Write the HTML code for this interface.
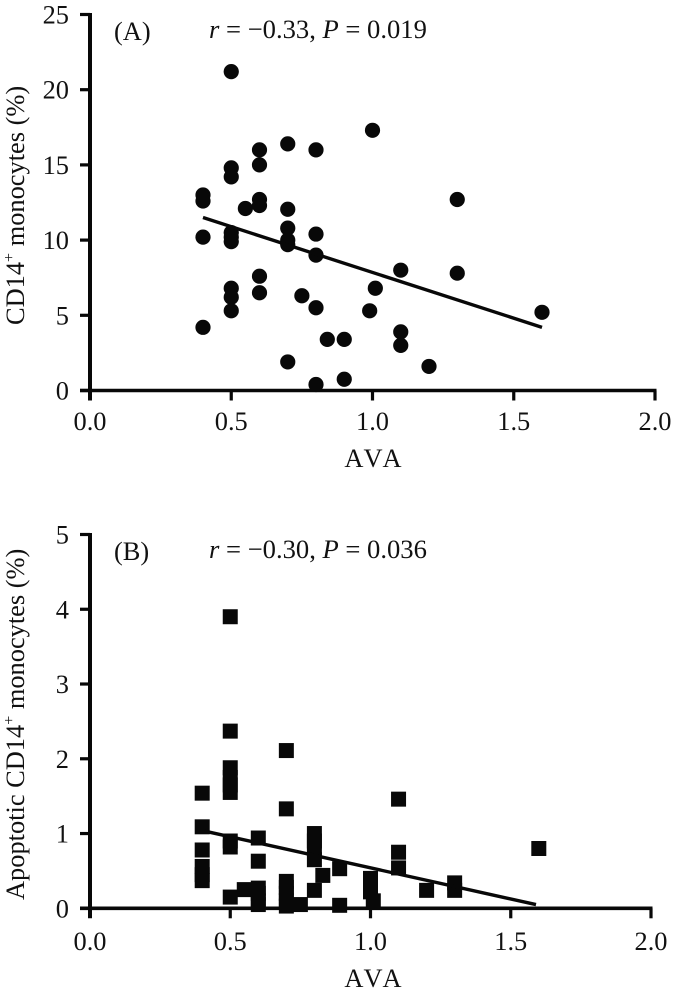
<!DOCTYPE html>
<html>
<head>
<meta charset="utf-8">
<title>CD14 monocytes vs AVA</title>
<style>
html,body{margin:0;padding:0;background:#fff;width:676px;height:992px;overflow:hidden}
svg{display:block}
text{font-family:"Liberation Serif",serif;fill:#111;font-size:26.4px}
.nokern{font-kerning:none}
.stat{font-size:26.6px}
</style>
</head>
<body>
<svg id="figure" width="676" height="992" viewBox="0 0 676 992" xmlns="http://www.w3.org/2000/svg">
<rect width="676" height="992" fill="#fff"/>
<text x="114" y="40">(A)</text>
<text class="stat" x="209" y="38"><tspan font-style="italic">r</tspan> = −0.33, <tspan font-style="italic">P</tspan> = 0.019</text>
<text transform="translate(24,325) rotate(-90)">CD14<tspan dy="-10" font-size="16">+</tspan><tspan dy="10"> monocytes (%)</tspan></text>
<text class="nokern" x="373" y="467" text-anchor="middle">AVA</text>
<text x="114" y="560">(B)</text>
<text class="stat" x="209" y="558"><tspan font-style="italic">r</tspan> = −0.30, <tspan font-style="italic">P</tspan> = 0.036</text>
<text transform="translate(24,900) rotate(-90)">Apoptotic CD14<tspan dy="-10" font-size="16">+</tspan><tspan dy="10"> monocytes (%)</tspan></text>
<text class="nokern" x="373" y="987" text-anchor="middle">AVA</text>
</svg>
<script>
const xTickLabels = ["0.0", "0.5", "1.0", "1.5", "2.0"];
const xTickValues = [0, 0.5, 1, 1.5, 2];
const aYTickValues = [0, 5, 10, 15, 20, 25];
const bYTickValues = [0, 1, 2, 3, 4, 5];

const aAva = [0.4,0.4,0.4,0.4, 0.5,0.5,0.5,0.5,0.5,0.5,0.5,0.5,0.5, 0.55, 0.6,0.6,0.6,0.6,0.6,0.6, 0.7,0.7,0.7,0.7,0.7,0.7, 0.75, 0.8,0.8,0.8,0.8,0.8, 0.84, 0.9,0.9, 1.0,1.01,0.99, 1.1,1.1,1.1, 1.2, 1.3,1.3, 1.6];
const aMonocytes = [13.0,12.6,10.2,4.2, 21.2,14.8,14.2,10.5,10.2,9.9,6.8,6.2,5.3, 12.1, 16.0,15.0,12.7,12.3,7.6,6.5, 16.4,12.05,10.8,10.0,9.7,1.9, 6.3, 16.0,10.4,9.0,5.5,0.4, 3.4, 3.4,0.75, 17.3,6.8,5.3, 8.0,3.9,3.0, 1.6, 12.7,7.8, 5.2];
const aFitAva = [0.4, 1.6];
const aFitValues = [11.5, 4.2];

const bAva = [0.4,0.4,0.4,0.4,0.4,0.4, 0.5,0.5,0.5,0.5,0.5,0.5,0.5,0.5,0.5, 0.55, 0.6,0.6,0.6,0.6,0.6,0.6, 0.7,0.7,0.7,0.7,0.7,0.7,0.7, 0.75, 0.8,0.8,0.8,0.8,0.8, 0.83, 0.89,0.89, 1.0,1.0,1.0,1.01, 1.1,1.1,1.1, 1.2, 1.3,1.3, 1.6];
const bApoptotic = [1.54,1.09,0.78,0.56,0.45,0.37, 3.9,2.37,1.88,1.75,1.65,1.55,0.9,0.82,0.15, 0.25, 0.94,0.63,0.27,0.2,0.1,0.05, 2.11,1.33,0.36,0.28,0.2,0.1,0.03, 0.05, 1.0,0.9,0.8,0.65,0.24, 0.44, 0.53,0.04, 0.4,0.3,0.22,0.1, 1.46,0.75,0.54, 0.24, 0.34,0.24, 0.8];
const bFitAva = [0.4, 1.59];
const bFitValues = [1.04, 0.05];

const svg = document.getElementById('figure');
const NS = 'http://www.w3.org/2000/svg';
const INK = '#080808';

function make(tag, attrs) {
  const el = document.createElementNS(NS, tag);
  for (const k in attrs) el.setAttribute(k, attrs[k]);
  svg.appendChild(el);
  return el;
}

function drawPanel(p) {
  const sx = v => p.x0 + (p.x2 - p.x0) * v / 2;
  const sy = v => p.y0 + (p.yTop - p.y0) * v / p.yMax;

  // markers
  p.xs.forEach((xv, i) => {
    const yv = p.ys[i];
    let m;
    if (p.shape === 'circle') {
      m = make('circle', { cx: sx(xv), cy: sy(yv), r: 7.6, fill: INK });
    } else {
      m = make('rect', { x: sx(xv) - 7.5, y: sy(yv) - 7.5, width: 15, height: 15, fill: INK });
    }
    
    
  });

  // fit line
  const fit = make('line', { x1: sx(p.fitX[0]), y1: sy(p.fitY[0]), x2: sx(p.fitX[1]), y2: sy(p.fitY[1]), stroke: INK, 'stroke-width': 3.4 });
  
  

  // axes
  const ya = make('line', { x1: p.x0, y1: sy(p.yMax) - 1.5, x2: p.x0, y2: p.y0 + 10, stroke: INK, 'stroke-width': 4 });
  
  
  const xa = make('line', { x1: p.x0 - 10, y1: p.y0, x2: sx(2) + 1.5, y2: p.y0, stroke: INK, 'stroke-width': 3.6 });
  
  

  // x ticks
  xTickValues.forEach((v, i) => {
    if (v !== 0) {
      const t = make('line', { x1: sx(v), y1: p.y0, x2: sx(v), y2: p.y0 + 10, stroke: INK, 'stroke-width': 3.2 });
      
      
    }
    const lab = make('text', { x: sx(v), y: p.y0 + p.xLabelGap, 'text-anchor': 'middle' });
    lab.textContent = xTickLabels[i];
    
    
  });

  // y ticks
  p.yTicks.forEach(v => {
    const t = make('line', { x1: p.x0 - 10, y1: sy(v), x2: p.x0, y2: sy(v), stroke: INK, 'stroke-width': 3.2 });
    
    
    const lab = make('text', { x: p.x0 - 21, y: sy(v) + 9, 'text-anchor': 'end' });
    lab.textContent = String(v);
    
    
  });
}

drawPanel({ x0: 90, x2: 655, y0: 390.5, yTop: 14.5, yMax: 25, yTicks: aYTickValues, xs: aAva, ys: aMonocytes, fitX: aFitAva, fitY: aFitValues, shape: 'circle', xLabelGap: 39.5 });
drawPanel({ x0: 90, x2: 651, y0: 908.3, yTop: 534.5, yMax: 5, yTicks: bYTickValues, xs: bAva, ys: bApoptotic, fitX: bFitAva, fitY: bFitValues, shape: 'square', xLabelGap: 41.5 });
</script>
</body>
</html>
